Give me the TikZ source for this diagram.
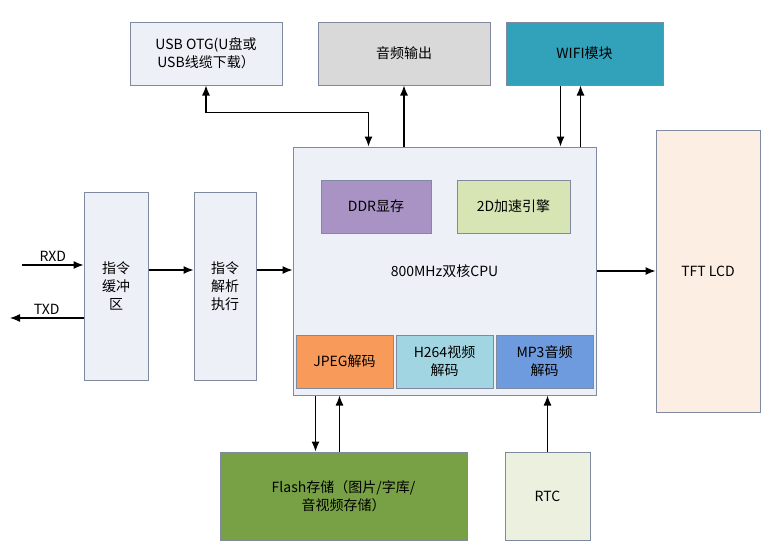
\documentclass[tikz,border=0pt]{standalone}
\usepackage{fontspec}
\setmainfont{Noto Sans CJK SC}
\usetikzlibrary{positioning, calc, arrows.meta}
\definecolor{edge}{HTML}{7F8AA0}
\definecolor{pale}{HTML}{EEF0F8}
\definecolor{wifiC}{HTML}{31A2BA}
\definecolor{ddrC}{HTML}{A993C4}
\definecolor{gpuC}{HTML}{D6E5B3}
\definecolor{jpegC}{HTML}{F79A5A}
\definecolor{h264C}{HTML}{A2D5E2}
\definecolor{mp3C}{HTML}{6E9ADE}
\definecolor{tftC}{HTML}{FDEEE4}
\definecolor{flashC}{HTML}{78A044}
\definecolor{rtcC}{HTML}{EBF1DE}
\definecolor{audioC}{HTML}{D9D9D9}
\begin{document}
\begin{tikzpicture}[x=1pt, y=-1pt, >={Latex[length=10pt,width=8pt]},
	box/.style={draw=edge, line width=1pt, align=center, inner sep=2pt, font=\fontsize{14}{18}\selectfont},
	link/.style={line width=1.2pt, black}]
	\useasboundingbox (0,0) rectangle (770,549);
	% modules around the CPU
	\node[box, fill=pale, minimum width=152, minimum height=63]	(usb)   at (206,53.5) 	{USB OTG(U盘或\\USB线缆下载）};
	\node[box, fill=audioC, minimum width=172, minimum height=63]	(audio) at (404,53.5) 	{音频输出};
	\node[box, fill=wifiC, minimum width=157, minimum height=63]	(wifi)  at (584.5,53.5) 	{WIFI模块};
	\node[box, fill=pale, minimum width=303, minimum height=248]	(cpu)   at (444.5,271) 	{800MHz双核CPU};
	\node[box, fill=ddrC, minimum width=110, minimum height=53]	(ddr)   at (376,206.5) 	{DDR显存};
	\node[box, fill=gpuC, minimum width=113, minimum height=53]	(gpu)   at (513.5,206.5) 	{2D加速引擎};
	\node[box, fill=jpegC, minimum width=97, minimum height=53]	(jpeg)  at (344.5,361.5) 	{JPEG解码};
	\node[box, fill=h264C, minimum width=97, minimum height=53]	(h264)  at (444.5,361.5) 	{H264视频\\解码};
	\node[box, fill=mp3C, minimum width=97, minimum height=53]	(mp3)   at (544.5,361.5) 	{MP3音频\\解码};
	\node[box, fill=tftC, minimum width=104, minimum height=282]	(tft)   at (708,271) 	{TFT LCD};
	\node[box, fill=pale, minimum width=64, minimum height=188]	(buf)   at (116,286) 	{指令\\缓冲\\区};
	\node[box, fill=pale, minimum width=62, minimum height=188]	(parse) at (225,286) 	{指令\\解析\\执行};
	\node[box, fill=flashC, minimum width=247, minimum height=88]	(flash) at (343.5,496) 	{Flash存储（图片/字库/\\音视频存储）};
	\node[box, fill=rtcC, minimum width=85, minimum height=88]	(rtc)   at (547.5,496) 	{RTC};
	\coordinate (rxd) at (22,265);
	\coordinate (txd) at (10,318);
	
	%connectors
	\draw[link,->] (rxd) -- node[above, font=\fontsize{14}{16}\selectfont] {RXD} (rxd -| buf.west);
	\draw[link,->] (txd -| buf.west) -- node[above, font=\fontsize{14}{16}\selectfont] {TXD} (txd);
	\draw[link,->] ([yshift=16]buf.east) -- ([yshift=16]parse.west);
	\draw[link,->] ([yshift=16]parse.east) -- ([yshift=16]parse.east -| cpu.west);
	\draw[link,->] (cpu.east) -- (tft.west);
	\draw[link,<->] (usb.south) -- ++(0,27) -| ([xshift=-76]cpu.north);
	\draw[link,->] (audio.south |- cpu.north) -- (audio.south);
	\draw[link,->] ([xshift=-24]wifi.south) -- ([xshift=-24]wifi.south |- cpu.north);
	\draw[link,->] ([xshift=-4]wifi.south |- cpu.north) -- ([xshift=-4]wifi.south);
	\draw[link,->] ([xshift=-28]flash.north |- cpu.south) -- ([xshift=-28]flash.north);
	\draw[link,->] ([xshift=-4]flash.north) -- ([xshift=-4]flash.north |- cpu.south);
	\draw[link,->] (rtc.north) -- (rtc.north |- cpu.south);
\end{tikzpicture}
\end{document}
